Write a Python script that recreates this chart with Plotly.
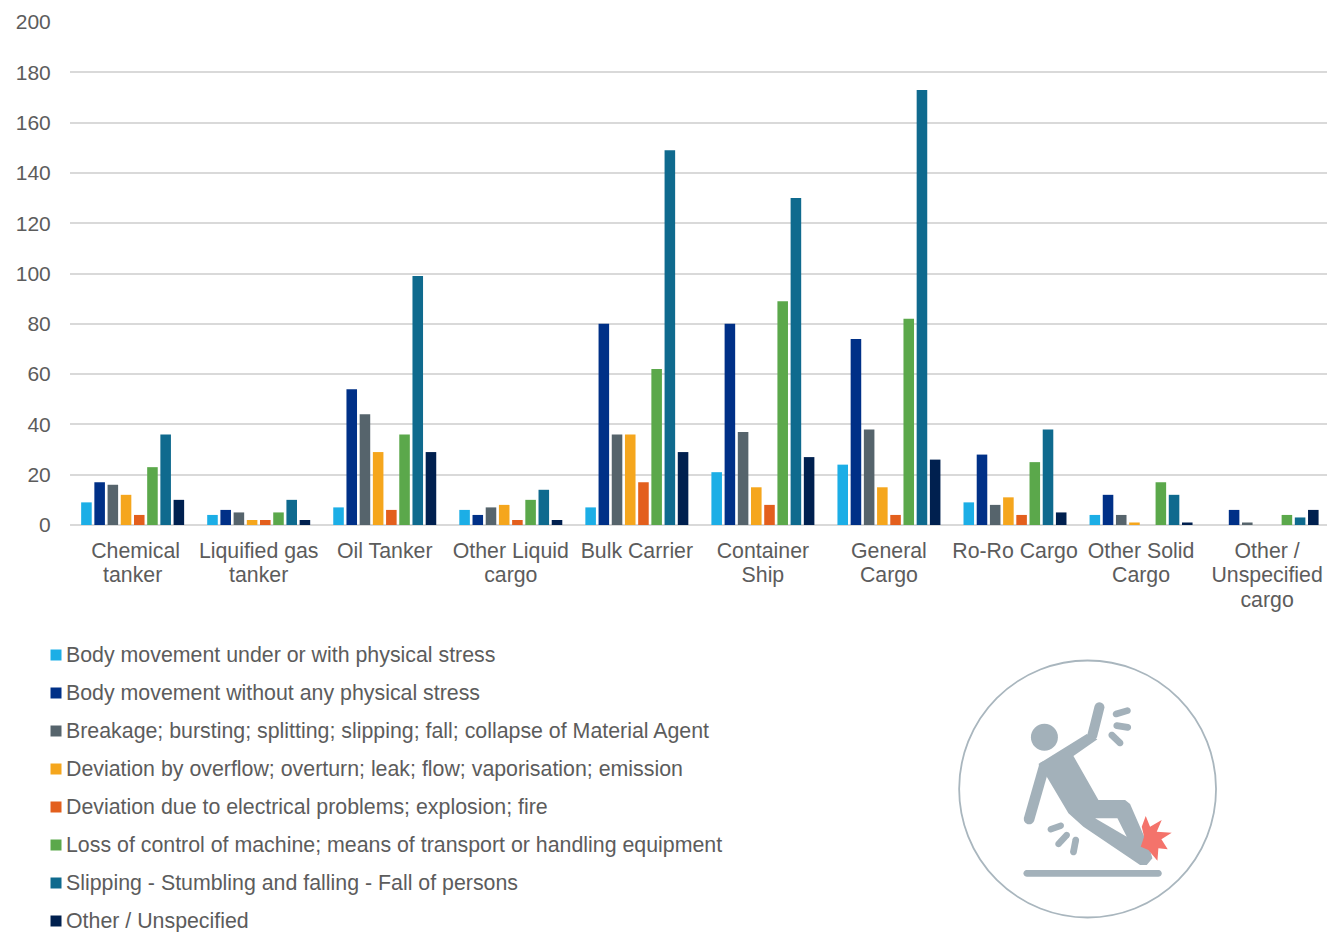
import math
import plotly.graph_objects as go

categories = ["\u00a0Chemical<br>tanker", "Liquified gas<br>tanker", "Oil Tanker", "Other Liquid<br>cargo",
              "Bulk Carrier", "Container<br>Ship", "General<br>Cargo", "Ro-Ro Cargo",
              "Other Solid<br>Cargo", "Other /<br>Unspecified<br>cargo"]
series_names = ["Body movement under or with physical stress",
                "Body movement without any physical stress",
                "Breakage; bursting; splitting; slipping; fall; collapse of Material Agent",
                "Deviation by overflow; overturn; leak; flow; vaporisation; emission",
                "Deviation due to electrical problems; explosion; fire",
                "Loss of control of machine; means of transport or handling equipment",
                "Slipping - Stumbling and falling - Fall of persons",
                "Other / Unspecified"]
colors = ["#1CAEE6", "#003087", "#56646C", "#F5A61D", "#E35F1D", "#5BA84B", "#0F6A8E", "#00204F"]
body_stress = [9, 4, 7, 6, 7, 21, 24, 9, 4, 0]
body_no_stress = [17, 6, 54, 4, 80, 80, 74, 28, 12, 6]
breakage = [16, 5, 44, 7, 36, 37, 38, 8, 4, 1]
overflow = [12, 2, 29, 8, 36, 15, 15, 11, 1, 0]
electrical = [4, 2, 6, 2, 17, 8, 4, 4, 0, 0]
loss_control = [23, 5, 36, 10, 62, 89, 82, 25, 17, 4]
slipping = [36, 10, 99, 14, 149, 130, 173, 38, 12, 3]
other = [10, 2, 29, 2, 29, 27, 26, 5, 1, 6]
all_series = [body_stress, body_no_stress, breakage, overflow, electrical, loss_control, slipping, other]

W, H = 1327, 932
L, T, B = 69.5, 22, 525
FONT = "Liberation Sans, Arial, sans-serif"
TXT = "#5C5C5C"
FS = 21.3
LEG_FS = 21.35

def px(x): return (x - L) / (W - L)
def py(y): return (B - y) / (B - T)

fig = go.Figure()
for name, vals, col in zip(series_names, all_series, colors):
    fig.add_bar(name=name, x=list(range(len(categories))), y=vals, marker_color=col, marker_line_width=0)

def wrap(lbl):
    return "<br>".join(f'<span style="font-size:{FS}px">{p}</span>' for p in lbl.split("<br>"))

shapes, annos = [], []
# Legend
legend_y = [655, 693, 731, 769, 807, 845, 883, 921]
for name, col, y in zip(series_names, colors, legend_y):
    shapes.append(dict(type="rect", xref="paper", yref="paper", x0=px(50), x1=px(61), y0=py(y - 5.5), y1=py(y + 5.5),
                       fillcolor=col, line_width=0))
    annos.append(dict(text=name, xref="paper", yref="paper", x=px(63.5), y=py(y), xanchor="left", yanchor="middle",
                      showarrow=False, font=dict(family=FONT, size=LEG_FS, color=TXT)))

# Icon (zoom coordinates -> page pixels)
ICON = "#A3B1BA"
def zx(x): return 940 + x / 3
def zy(y): return 650 + y / 3
def poly(pts, fill):
    d = "M" + "L".join(f"{px(zx(a)):.5f},{py(zy(b)):.5f}" for a, b in pts) + "Z"
    shapes.append(dict(type="path", xref="paper", yref="paper", path=d, fillcolor=fill, line_width=0))
def capsule(x0, y0, x1, y1, w, fill=ICON):
    a = math.atan2(y1 - y0, x1 - x0)
    r = w / 2
    pts = []
    for i in range(13):
        t = a + math.pi / 2 + math.pi * i / 12
        pts.append((x0 + r * math.cos(t), y0 + r * math.sin(t)))
    for i in range(13):
        t = a - math.pi / 2 + math.pi * i / 12
        pts.append((x1 + r * math.cos(t), y1 + r * math.sin(t)))
    poly(pts, fill)

shapes.append(dict(type="circle", xref="paper", yref="paper", x0=px(959), x1=px(1216), y0=py(660.5), y1=py(917.5),
                   line=dict(color="#A9B6BE", width=1.8), fillcolor="rgba(0,0,0,0)"))
shapes.append(dict(type="circle", xref="paper", yref="paper", x0=px(1030.8), x1=px(1057.8), y0=py(723.8), y1=py(750.8),
                   fillcolor=ICON, line_width=0))
capsule(478, 172, 457, 255, 30)
capsule(312, 350, 267, 507, 32)
poly([(295, 342), (440, 252), (472, 268), (400, 318), (475, 450), (555, 450), (570, 462), (630, 600), (637, 625),
      (620, 645), (600, 645), (430, 530), (385, 490), (320, 380)], ICON)
poly([(465, 505), (532, 505), (560, 560)], "#FFFFFF")
for seg in [(528, 192, 562, 182, 20), (530, 227, 563, 232, 20), (515, 255, 540, 279, 20),
            (332, 538, 362, 527, 19), (355, 582, 380, 555, 19), (407, 570, 400, 606, 20), (260, 670, 655, 670, 20)]:
    capsule(*seg)
poly([(617, 498), (630, 530), (665, 510), (650, 545), (695, 548), (664, 568), (683, 598), (655, 595), (652, 632),
      (625, 600), (602, 590), (612, 560), (605, 530)], "#F4736B")

fig.update_layout(
    width=W, height=H, margin=dict(l=L, r=0, t=T, b=H - B), autosize=False,
    paper_bgcolor="white", plot_bgcolor="white", showlegend=False,
    barmode="group", bargap=0.162, bargroupgap=0.2,
    font=dict(family=FONT, size=FS, color=TXT),
    shapes=shapes, annotations=annos,
    xaxis=dict(range=[-0.497, (W - L) / 126.1 - 0.497], tickmode="array", tickvals=list(range(len(categories))),
               ticktext=[wrap(c) for c in categories], tickangle=0, showgrid=False, zeroline=False,
               ticks="outside", ticklen=9, tickcolor="rgba(0,0,0,0)", showline=False,
               tickfont=dict(family=FONT, size=18.9, color=TXT)),
    yaxis=dict(range=[0, 200], dtick=20, showgrid=True, gridcolor="#D9D9D9", gridwidth=1.6,
               zeroline=True, zerolinecolor="#D9D9D9", zerolinewidth=1.6, showline=False,
               ticks="outside", ticklen=14, tickcolor="rgba(0,0,0,0)", tickfont=dict(family=FONT, size=21, color=TXT)),
)
fig.write_html("out.html", config={"displayModeBar": False},
               post_script="document.body.style.margin='0';document.body.style.overflow='hidden';")
